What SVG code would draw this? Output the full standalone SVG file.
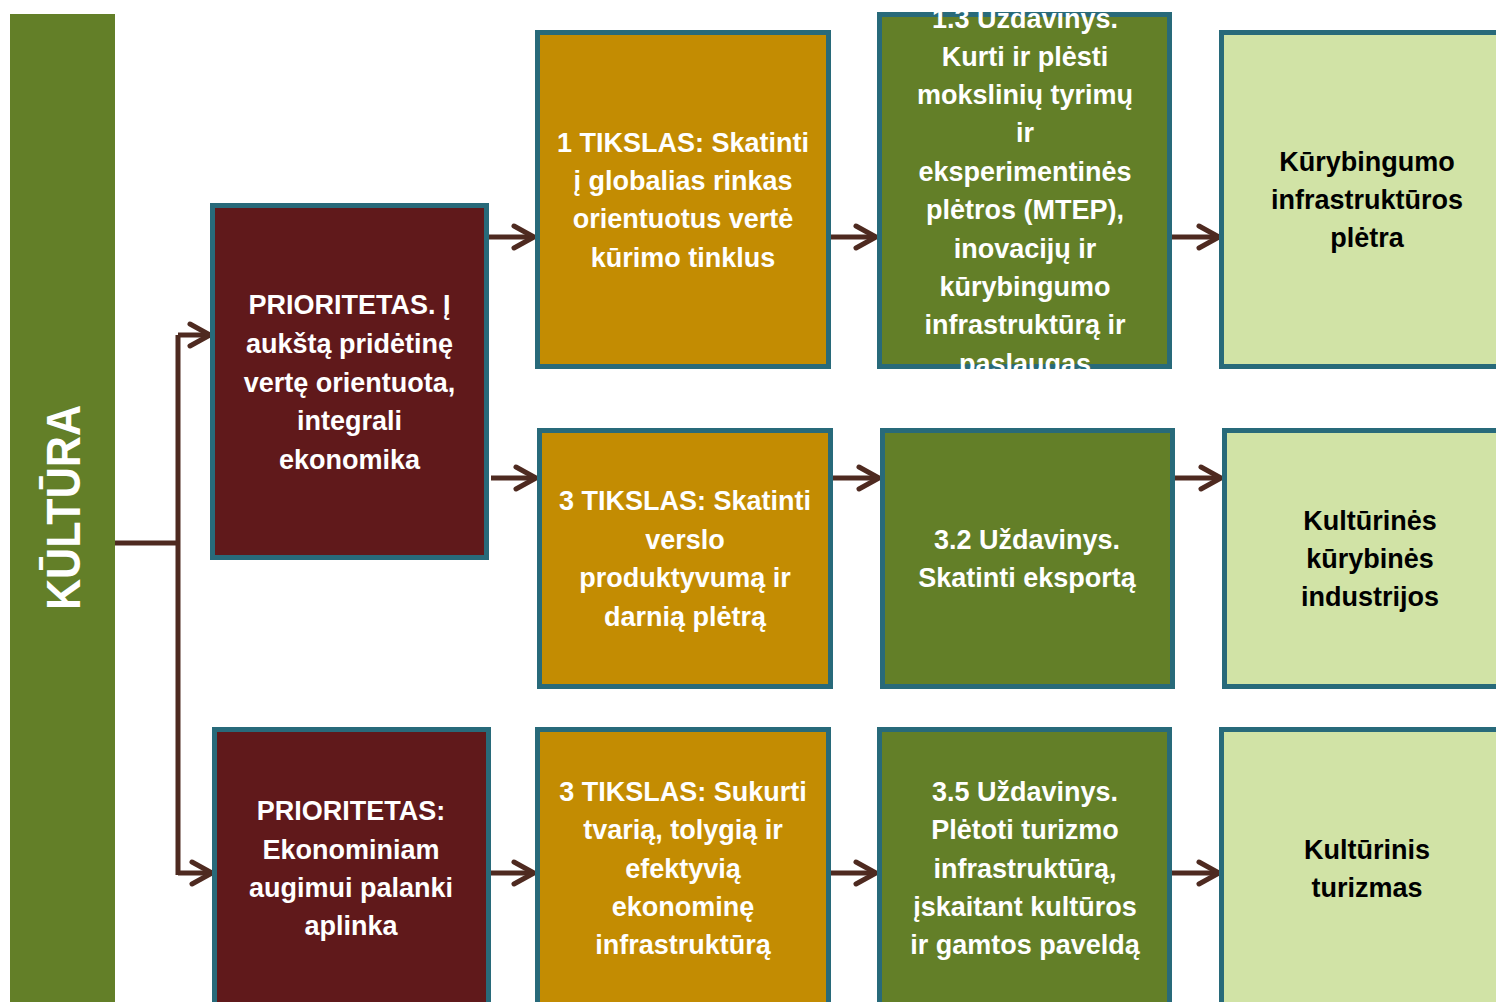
<svg xmlns="http://www.w3.org/2000/svg" width="1496" height="1002" viewBox="0 0 1496 1002">
<defs>
<style>
.box{stroke:#286a7a;stroke-width:5}
.prio{fill:#60191b}
.goal{fill:#c38c02}
.task{fill:#637f28}
.res{fill:#d1e3a6}
.t{font-family:"Liberation Sans",Arial,sans-serif;font-weight:bold;font-size:27px;text-anchor:middle;fill:#ffffff}
.k{fill:#000000}
.conn{stroke:#4e2a20;stroke-width:5;fill:none}
</style>
<marker id="ah" markerUnits="userSpaceOnUse" viewBox="0 0 24 24" markerWidth="24" markerHeight="24" refX="21" refY="12" orient="auto" overflow="visible">
<path d="M1,1 L21,12 L1,23" fill="none" stroke="#4e2a20" stroke-width="5" stroke-linecap="round" stroke-linejoin="miter"/>
</marker>
<clipPath id="cg1"><rect x="877" y="12" width="295" height="357"/></clipPath>
</defs>
<rect width="1496" height="1002" fill="#ffffff"/>

<g id="kultura">
<rect x="10" y="14" width="105" height="1000" fill="#637f28"/>
<text class="t" transform="translate(80,507.5) rotate(-90)" x="0" y="0" style="font-size:48px" textLength="205" lengthAdjust="spacingAndGlyphs">KŪLTŪRA</text>
</g>

<g id="connectors">
<path class="conn" d="M115,543 H178 M178,335 V875"/>
<path class="conn" d="M178,335 H210" marker-end="url(#ah)"/>
<path class="conn" d="M178,873 H212" marker-end="url(#ah)"/>
<path class="conn" d="M489,237 H534" marker-end="url(#ah)"/>
<path class="conn" d="M831,237 H876" marker-end="url(#ah)"/>
<path class="conn" d="M1172,237 H1219" marker-end="url(#ah)"/>
<path class="conn" d="M491,478 H536" marker-end="url(#ah)"/>
<path class="conn" d="M833,478 H879" marker-end="url(#ah)"/>
<path class="conn" d="M1175,478 H1221" marker-end="url(#ah)"/>
<path class="conn" d="M491,873 H534" marker-end="url(#ah)"/>
<path class="conn" d="M831,873 H876" marker-end="url(#ah)"/>
<path class="conn" d="M1172,873 H1219" marker-end="url(#ah)"/>
</g>

<g id="prio1">
<rect class="box prio" x="212.5" y="205.5" width="274" height="352"/>
<text class="t" x="349.5"><tspan x="349.5" y="314">PRIORITETAS. Į</tspan><tspan x="349.5" y="353">aukštą pridėtinę</tspan><tspan x="349.5" y="392">vertę orientuota,</tspan><tspan x="349.5" y="430">integrali</tspan><tspan x="349.5" y="469">ekonomika</tspan></text>
</g>

<g id="prio2">
<rect class="box prio" x="214.5" y="729.5" width="274" height="290"/>
<text class="t"><tspan x="351" y="820">PRIORITETAS:</tspan><tspan x="351" y="859">Ekonominiam</tspan><tspan x="351" y="897">augimui palanki</tspan><tspan x="351" y="935">aplinka</tspan></text>
</g>

<g id="goal1">
<rect class="box goal" x="537.5" y="32.5" width="291" height="334"/>
<text class="t"><tspan x="683" y="152">1 TIKSLAS: Skatinti</tspan><tspan x="683" y="190">į globalias rinkas</tspan><tspan x="683" y="228">orientuotus vertė</tspan><tspan x="683" y="267">kūrimo tinklus</tspan></text>
</g>

<g id="goal2">
<rect class="box goal" x="539.5" y="430.5" width="291" height="256"/>
<text class="t"><tspan x="685" y="510">3 TIKSLAS: Skatinti</tspan><tspan x="685" y="549">verslo</tspan><tspan x="685" y="587">produktyvumą ir</tspan><tspan x="685" y="626">darnią plėtrą</tspan></text>
</g>

<g id="goal3">
<rect class="box goal" x="537.5" y="729.5" width="291" height="290"/>
<text class="t"><tspan x="683" y="801">3 TIKSLAS: Sukurti</tspan><tspan x="683" y="839">tvarią, tolygią ir</tspan><tspan x="683" y="878">efektyvią</tspan><tspan x="683" y="916">ekonominę</tspan><tspan x="683" y="954">infrastruktūrą</tspan></text>
</g>

<g id="task1">
<rect class="box task" x="879.5" y="14.5" width="290" height="352"/>
<text class="t" clip-path="url(#cg1)"><tspan x="1025" y="28">1.3 Uždavinys.</tspan><tspan x="1025" y="66">Kurti ir plėsti</tspan><tspan x="1025" y="104">mokslinių tyrimų</tspan><tspan x="1025" y="142">ir</tspan><tspan x="1025" y="181">eksperimentinės</tspan><tspan x="1025" y="219">plėtros (MTEP),</tspan><tspan x="1025" y="258">inovacijų ir</tspan><tspan x="1025" y="296">kūrybingumo</tspan><tspan x="1025" y="334">infrastruktūrą ir</tspan><tspan x="1025" y="373">paslaugas</tspan></text>
</g>

<g id="task2">
<rect class="box task" x="882.5" y="430.5" width="290" height="256"/>
<text class="t"><tspan x="1027" y="549">3.2 Uždavinys.</tspan><tspan x="1027" y="587">Skatinti eksportą</tspan></text>
</g>

<g id="task3">
<rect class="box task" x="879.5" y="729.5" width="290" height="290"/>
<text class="t"><tspan x="1025" y="801">3.5 Uždavinys.</tspan><tspan x="1025" y="839">Plėtoti turizmo</tspan><tspan x="1025" y="878">infrastruktūrą,</tspan><tspan x="1025" y="916">įskaitant kultūros</tspan><tspan x="1025" y="954">ir gamtos paveldą</tspan></text>
</g>

<g id="res1">
<rect class="box res" x="1221.5" y="32.5" width="300" height="334"/>
<text class="t k"><tspan x="1367" y="171">Kūrybingumo</tspan><tspan x="1367" y="209">infrastruktūros</tspan><tspan x="1367" y="247">plėtra</tspan></text>
</g>

<g id="res2">
<rect class="box res" x="1224.5" y="430.5" width="300" height="256"/>
<text class="t k"><tspan x="1370" y="530">Kultūrinės</tspan><tspan x="1370" y="568">kūrybinės</tspan><tspan x="1370" y="606">industrijos</tspan></text>
</g>

<g id="res3">
<rect class="box res" x="1221.5" y="729.5" width="300" height="290"/>
<text class="t k"><tspan x="1367" y="859">Kultūrinis</tspan><tspan x="1367" y="897">turizmas</tspan></text>
</g>
</svg>
